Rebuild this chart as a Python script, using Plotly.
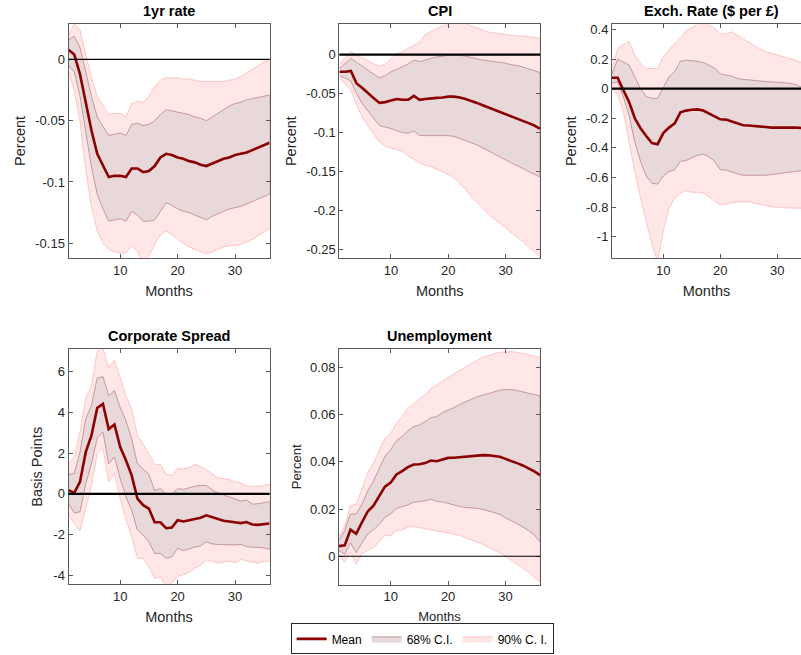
import plotly.graph_objects as go

months = list(range(1, 37))
month_ticks = [10, 20, 30]

# ---- 1yr rate (percent) ----
rate_mean = [0.008, 0.004, -0.012, -0.035, -0.058, -0.077, -0.087, -0.096, -0.095, -0.095,
             -0.096, -0.089, -0.089, -0.092, -0.091, -0.087, -0.080, -0.077, -0.078, -0.080,
             -0.081, -0.083, -0.084, -0.086, -0.087, -0.085, -0.083, -0.081, -0.080, -0.078,
             -0.077, -0.076, -0.074, -0.072, -0.070, -0.068]
rate_u68 = [0.016, 0.019, 0.010, -0.010, -0.030, -0.047, -0.055, -0.062, -0.061, -0.060,
            -0.062, -0.053, -0.052, -0.054, -0.053, -0.050, -0.045, -0.041, -0.042, -0.043,
            -0.044, -0.045, -0.047, -0.048, -0.050, -0.047, -0.044, -0.041, -0.038, -0.036,
            -0.035, -0.033, -0.032, -0.031, -0.030, -0.029]
rate_l68 = [-0.005, -0.010, -0.030, -0.060, -0.088, -0.110, -0.122, -0.132, -0.131, -0.130,
            -0.132, -0.124, -0.127, -0.132, -0.132, -0.131, -0.124, -0.117, -0.119, -0.122,
            -0.124, -0.125, -0.127, -0.129, -0.131, -0.128, -0.126, -0.124, -0.122, -0.121,
            -0.120, -0.118, -0.116, -0.114, -0.112, -0.110]
rate_u90 = [0.020, 0.029, 0.024, 0.005, -0.015, -0.030, -0.038, -0.045, -0.044, -0.044,
            -0.047, -0.036, -0.034, -0.035, -0.030, -0.022, -0.017, -0.015, -0.015, -0.015,
            -0.016, -0.016, -0.017, -0.018, -0.018, -0.018, -0.018, -0.018, -0.017, -0.016,
            -0.014, -0.011, -0.008, -0.005, -0.002, 0.000]
rate_l90 = [-0.010, -0.025, -0.050, -0.090, -0.120, -0.140, -0.150, -0.155, -0.157, -0.158,
            -0.158, -0.152, -0.157, -0.165, -0.160, -0.152, -0.143, -0.140, -0.143, -0.147,
            -0.150, -0.153, -0.155, -0.157, -0.159, -0.157, -0.155, -0.153, -0.152, -0.152,
            -0.151, -0.149, -0.147, -0.144, -0.141, -0.138]
rate_ticks = [0, -0.05, -0.1, -0.15]
rate_labels = ["0", "-0.05", "-0.1", "-0.15"]

# ---- CPI (percent) ----
cpi_mean = [-0.022, -0.022, -0.021, -0.037, -0.043, -0.050, -0.056, -0.062, -0.061, -0.059,
            -0.057, -0.058, -0.058, -0.053, -0.058, -0.057, -0.056, -0.0555, -0.055, -0.054,
            -0.054, -0.055, -0.057, -0.059, -0.062, -0.065, -0.068, -0.071, -0.074, -0.076,
            -0.079, -0.082, -0.085, -0.088, -0.091, -0.095]
cpi_u68 = [-0.018, -0.012, -0.005, -0.010, -0.015, -0.020, -0.025, -0.030, -0.027, -0.022,
           -0.019, -0.016, -0.012, -0.007, -0.009, -0.007, -0.005, -0.003, -0.002, -0.001,
           -0.001, -0.001, -0.002, -0.004, -0.006, -0.007, -0.008, -0.009, -0.010, -0.011,
           -0.013, -0.014, -0.016, -0.018, -0.020, -0.023]
cpi_l68 = [-0.027, -0.030, -0.034, -0.050, -0.063, -0.072, -0.082, -0.091, -0.093, -0.095,
           -0.097, -0.100, -0.101, -0.098, -0.104, -0.104, -0.104, -0.104, -0.104, -0.104,
           -0.105, -0.107, -0.110, -0.113, -0.116, -0.119, -0.123, -0.127, -0.131, -0.135,
           -0.139, -0.143, -0.146, -0.150, -0.154, -0.157]
cpi_u90 = [-0.012, -0.004, 0.004, -0.001, -0.004, -0.008, -0.012, -0.015, -0.012, -0.006,
           0.001, 0.004, 0.008, 0.012, 0.016, 0.026, 0.029, 0.033, 0.037, 0.040,
           0.042, 0.042, 0.040, 0.037, 0.034, 0.031, 0.029, 0.028, 0.027, 0.026,
           0.025, 0.024, 0.024, 0.023, 0.022, 0.021]
cpi_l90 = [-0.030, -0.037, -0.045, -0.065, -0.080, -0.092, -0.102, -0.112, -0.118, -0.120,
           -0.122, -0.124, -0.130, -0.135, -0.139, -0.142, -0.144, -0.147, -0.150, -0.154,
           -0.158, -0.165, -0.173, -0.182, -0.190, -0.197, -0.205, -0.211, -0.217, -0.222,
           -0.228, -0.234, -0.240, -0.246, -0.253, -0.260]
cpi_ticks = [0, -0.05, -0.1, -0.15, -0.2, -0.25]
cpi_labels = ["0", "-0.05", "-0.1", "-0.15", "-0.2", "-0.25"]

# ---- Exchange rate (percent) ----
fx_mean = [0.074, 0.074, -0.010, -0.090, -0.200, -0.267, -0.320, -0.368, -0.375, -0.300,
           -0.263, -0.234, -0.160, -0.148, -0.142, -0.140, -0.148, -0.166, -0.189, -0.207,
           -0.209, -0.222, -0.236, -0.247, -0.249, -0.251, -0.253, -0.259, -0.263, -0.262,
           -0.260, -0.260, -0.262, -0.265, -0.268, -0.270]
fx_u68 = [0.100, 0.200, 0.180, 0.160, 0.080, 0.000, -0.054, -0.065, -0.065, 0.013,
          0.080, 0.115, 0.186, 0.193, 0.190, 0.185, 0.178, 0.160, 0.140, 0.100,
          0.095, 0.085, 0.070, 0.062, 0.060, 0.058, 0.052, 0.048, 0.045, 0.045,
          0.042, 0.038, 0.030, 0.015, 0.008, 0.000]
fx_l68 = [0.036, 0.047, -0.055, -0.180, -0.360, -0.490, -0.590, -0.640, -0.645, -0.590,
          -0.560, -0.548, -0.490, -0.485, -0.470, -0.450, -0.443, -0.460, -0.490, -0.548,
          -0.550, -0.560, -0.575, -0.585, -0.585, -0.585, -0.585, -0.585, -0.585, -0.580,
          -0.575, -0.568, -0.560, -0.555, -0.550, -0.545]
fx_u90 = [0.137, 0.270, 0.300, 0.320, 0.227, 0.170, 0.137, 0.137, 0.137, 0.216,
          0.260, 0.305, 0.340, 0.395, 0.410, 0.440, 0.445, 0.430, 0.410, 0.370,
          0.370, 0.385, 0.360, 0.340, 0.310, 0.290, 0.270, 0.250, 0.240, 0.230,
          0.220, 0.210, 0.195, 0.180, 0.170, 0.160]
fx_l90 = [0.000, -0.040, -0.155, -0.360, -0.560, -0.740, -0.900, -1.050, -1.170, -0.960,
          -0.810, -0.740, -0.705, -0.690, -0.700, -0.700, -0.705, -0.730, -0.760, -0.785,
          -0.780, -0.770, -0.765, -0.765, -0.765, -0.770, -0.780, -0.790, -0.800, -0.800,
          -0.805, -0.807, -0.808, -0.810, -0.810, -0.810]
fx_ticks = [0.4, 0.2, 0, -0.2, -0.4, -0.6, -0.8, -1]
fx_labels = ["0.4", "0.2", "0", "-0.2", "-0.4", "-0.6", "-0.8", "-1"]

# ---- Corporate spread (basis points) ----
cs_mean = [0.18, 0.05, 0.59, 2.05, 2.87, 4.22, 4.42, 3.18, 3.41, 2.30,
           1.65, 0.91, -0.23, -0.55, -0.72, -1.39, -1.39, -1.68, -1.65, -1.29,
           -1.35, -1.30, -1.23, -1.17, -1.05, -1.15, -1.25, -1.32, -1.35, -1.40,
           -1.43, -1.38, -1.50, -1.52, -1.50, -1.45]
cs_u68 = [0.96, 1.00, 2.05, 3.68, 4.34, 5.69, 5.75, 4.82, 5.07, 4.25,
          3.60, 2.71, 1.48, 1.24, 0.96, 0.18, 0.26, 0.00, 0.00, 0.26,
          0.22, 0.30, 0.38, 0.42, 0.42, 0.20, 0.05, -0.05, -0.15, -0.25,
          -0.35, -0.30, -0.50, -0.48, -0.42, -0.38]
cs_l68 = [-0.47, -0.93, -0.88, 0.50, 1.48, 2.75, 3.03, 1.48, 1.81, 0.75,
          -0.15, -0.80, -1.78, -2.02, -2.35, -2.92, -2.92, -3.16, -3.08, -2.67,
          -2.78, -2.70, -2.60, -2.55, -2.35, -2.45, -2.48, -2.48, -2.50, -2.50,
          -2.48, -2.58, -2.62, -2.62, -2.65, -2.72]
cs_u90 = [1.48, 1.81, 3.03, 4.71, 5.31, 6.99, 7.15, 6.21, 6.57, 5.64,
          4.82, 4.17, 2.87, 2.46, 1.97, 1.45, 1.45, 0.96, 0.91, 1.24,
          1.22, 1.30, 1.45, 1.35, 1.18, 1.00, 0.80, 0.75, 0.70, 0.60,
          0.55, 0.40, 0.37, 0.38, 0.40, 0.50]
cs_l90 = [-1.05, -1.45, -1.81, -0.64, 0.42, 1.97, 2.22, 0.59, 1.00, -0.23,
          -1.21, -2.10, -3.16, -3.16, -3.57, -4.14, -4.06, -4.55, -4.38, -4.06,
          -3.95, -3.85, -3.65, -3.50, -3.24, -3.30, -3.40, -3.35, -3.30, -3.38,
          -3.22, -3.30, -3.35, -3.40, -3.30, -3.32]
cs_ticks = [6, 4, 2, 0, -2, -4]
cs_labels = ["6", "4", "2", "0", "-2", "-4"]

# ---- Unemployment (percent) ----
un_mean = [0.0043, 0.0046, 0.0113, 0.0095, 0.0144, 0.0190, 0.0214, 0.0256, 0.0295, 0.0312,
           0.0347, 0.0361, 0.0378, 0.0389, 0.0390, 0.0395, 0.0406, 0.0403, 0.0411, 0.0417,
           0.0418, 0.0420, 0.0425, 0.0427, 0.0429, 0.0429, 0.0428, 0.0426, 0.0422, 0.0413,
           0.0405, 0.0395, 0.0385, 0.0373, 0.0360, 0.0344]
un_u68 = [0.0067, 0.0109, 0.0179, 0.0179, 0.0221, 0.0277, 0.0319, 0.0375, 0.0424, 0.0452,
          0.0490, 0.0508, 0.0532, 0.0550, 0.0557, 0.0571, 0.0588, 0.0592, 0.0609, 0.0620,
          0.0630, 0.0644, 0.0655, 0.0666, 0.0676, 0.0683, 0.0690, 0.0700, 0.0704, 0.0707,
          0.0707, 0.0703, 0.0697, 0.0690, 0.0684, 0.0680]
un_l68 = [0.0025, 0.0008, 0.0056, 0.0015, 0.0053, 0.0095, 0.0112, 0.0134, 0.0165, 0.0179,
          0.0203, 0.0210, 0.0218, 0.0229, 0.0231, 0.0235, 0.0242, 0.0232, 0.0231, 0.0224,
          0.0218, 0.0211, 0.0207, 0.0204, 0.0203, 0.0199, 0.0193, 0.0186, 0.0178, 0.0162,
          0.0151, 0.0139, 0.0125, 0.0109, 0.0091, 0.0060]
un_u90 = [0.0081, 0.0130, 0.0214, 0.0221, 0.0284, 0.0354, 0.0396, 0.0448, 0.0501, 0.0522,
          0.0564, 0.0592, 0.0627, 0.0648, 0.0666, 0.0686, 0.0711, 0.0727, 0.0743, 0.0760,
          0.0774, 0.0788, 0.0802, 0.0816, 0.0830, 0.0844, 0.0850, 0.0860, 0.0865, 0.0867,
          0.0868, 0.0865, 0.0860, 0.0855, 0.0850, 0.0844]
un_l90 = [0.0004, -0.0024, 0.0018, -0.0034, 0.0011, 0.0025, 0.0036, 0.0060, 0.0088, 0.0087,
          0.0109, 0.0112, 0.0123, 0.0126, 0.0123, 0.0118, 0.0113, 0.0108, 0.0103, 0.0098,
          0.0093, 0.0088, 0.0080, 0.0070, 0.0060, 0.0050, 0.0039, 0.0027, 0.0014, 0.0000,
          -0.0016, -0.0033, -0.0050, -0.0068, -0.0088, -0.0110]
un_ticks = [0.08, 0.06, 0.04, 0.02, 0]
un_labels = ["0.08", "0.06", "0.04", "0.02", "0"]

MEAN_COLOR = "rgb(139,0,0)"
FILL68 = "rgb(233,216,218)"
EDGE68 = "rgb(185,135,140)"
FILL90 = "rgb(255,231,231)"
EDGE90 = "rgb(255,185,185)"
AXIS_COLOR = "rgb(90,90,90)"
TEXT_COLOR = "rgb(38,38,38)"
FONT = "Liberation Sans, Arial, Helvetica, sans-serif"
W, H = 801, 655

# panel layout in pixels: (left, right, top, bottom)
panels = [
    dict(title="1yr rate", ylab="Percent", data=(rate_mean, rate_u68, rate_l68, rate_u90, rate_l90),
         ticks=(rate_ticks, rate_labels),
         box=(68.5, 269.5, 22.0, 256.7), yrange=[-0.162, 0.029], xrange=[1, 36],
         zero_w=1.2, lab_size=14.5, ystand=6, xstand=9),
    dict(title="CPI", ylab="Percent", data=(cpi_mean, cpi_u68, cpi_l68, cpi_u90, cpi_l90),
         ticks=(cpi_ticks, cpi_labels),
         box=(339.4, 540.0, 22.3, 256.7), yrange=[-0.261, 0.039], xrange=[1, 36],
         zero_w=2.2, lab_size=14.5, ystand=6, xstand=9),
    dict(title="Exch. Rate ($ per £)", ylab="Percent", data=(fx_mean, fx_u68, fx_l68, fx_u90, fx_l90),
         ticks=(fx_ticks, fx_labels),
         box=(612.0, 801.0, 22.3, 256.7), yrange=[-1.144, 0.436], xrange=[1, 34.16],
         zero_w=2.2, lab_size=14.5, ystand=5, xstand=9),
    dict(title="Corporate Spread", ylab="Basis Points", data=(cs_mean, cs_u68, cs_l68, cs_u90, cs_l90),
         ticks=(cs_ticks, cs_labels),
         box=(68.5, 269.5, 348.3, 584.0), yrange=[-4.43, 7.1], xrange=[1, 36],
         zero_w=2.2, lab_size=14.5, ystand=7, xstand=9),
    dict(title="Unemployment", ylab="Percent", data=(un_mean, un_u68, un_l68, un_u90, un_l90),
         ticks=(un_ticks, un_labels),
         box=(339.0, 540.0, 348.3, 584.3), yrange=[-0.012, 0.0878], xrange=[1, 36],
         zero_w=1.2, lab_size=13, ystand=5, xstand=8),
]

fig = go.Figure()
annotations = []
shapes = []

for i, p in enumerate(panels):
    n = i + 1
    xa = "x" if n == 1 else f"x{n}"
    ya = "y" if n == 1 else f"y{n}"
    mean, u68, l68, u90, l90 = p["data"]
    first = (n == 1)

    band_x = months + months[::-1]
    fig.add_trace(go.Scatter(
        x=band_x, y=u90 + l90[::-1], fill="toself", fillcolor=FILL90,
        line=dict(color=EDGE90, width=0.8), mode="lines",
        name="90% C. I.", legendrank=3, showlegend=first, hoverinfo="skip",
        xaxis=xa, yaxis=ya))
    fig.add_trace(go.Scatter(
        x=band_x, y=u68 + l68[::-1], fill="toself", fillcolor=FILL68,
        line=dict(color=EDGE68, width=0.8), mode="lines",
        name="68% C.I.", legendrank=2, showlegend=first, hoverinfo="skip",
        xaxis=xa, yaxis=ya))
    fig.add_trace(go.Scatter(
        x=months, y=mean, mode="lines", line=dict(color=MEAN_COLOR, width=2.6),
        name="Mean", legendrank=1, showlegend=first, xaxis=xa, yaxis=ya))

    l, r, t, b = p["box"]
    xdom = [l / W, min(r / W, 1.0)]
    ydom = [1 - b / H, 1 - t / H]
    tv, tt = p["ticks"]
    axis_common = dict(showline=True, linecolor=AXIS_COLOR, linewidth=1,
                       ticks="inside", ticklen=4, tickcolor=AXIS_COLOR,
                       showgrid=False, zeroline=False,
                       tickfont=dict(family=FONT, size=13, color=TEXT_COLOR))
    fig.layout[f"xaxis{'' if n == 1 else n}"] = dict(
        axis_common, domain=xdom, range=p["xrange"], anchor=ya,
        tickvals=month_ticks, mirror="ticks",
        title=dict(text="Months", standoff=p["xstand"],
                   font=dict(family=FONT, size=p["lab_size"], color=TEXT_COLOR)))
    fig.layout[f"yaxis{'' if n == 1 else n}"] = dict(
        axis_common, domain=ydom, range=p["yrange"], anchor=xa,
        tickvals=tv, ticktext=tt, mirror="ticks" if r < W else False,
        title=dict(text=p["ylab"], standoff=p["ystand"],
                   font=dict(family=FONT, size=p["lab_size"], color=TEXT_COLOR)))

    # reference line at zero, drawn above the bands
    shapes.append(dict(type="line", xref=f"{xa} domain", yref=ya, x0=0, x1=1, y0=0, y1=0,
                       line=dict(color="black", width=p["zero_w"]), layer="above"))

    annotations.append(dict(text=f"<b>{p['title']}</b>", xref="paper", yref="paper",
                            x=(l + 811.5) / 2 / W if n == 3 else (l + r) / 2 / W,
                            y=1 - (t - 3) / H, xanchor="center", yanchor="bottom",
                            showarrow=False,
                            font=dict(family=FONT, size=14.5, color="black")))

fig.update_layout(
    width=W, height=H, margin=dict(l=0, r=0, t=0, b=0),
    paper_bgcolor="white", plot_bgcolor="white",
    font=dict(family=FONT, color="black"),
    showlegend=True,
    legend=dict(orientation="h", x=0.527, y=0.001, xanchor="center", yanchor="bottom",
                bgcolor="white", bordercolor="rgb(40,40,40)", borderwidth=1,
                font=dict(family=FONT, size=12, color="black"),
                itemwidth=30, tracegroupgap=0, traceorder="normal"),
    annotations=annotations, shapes=shapes,
)

fig.write_html("out.html")
